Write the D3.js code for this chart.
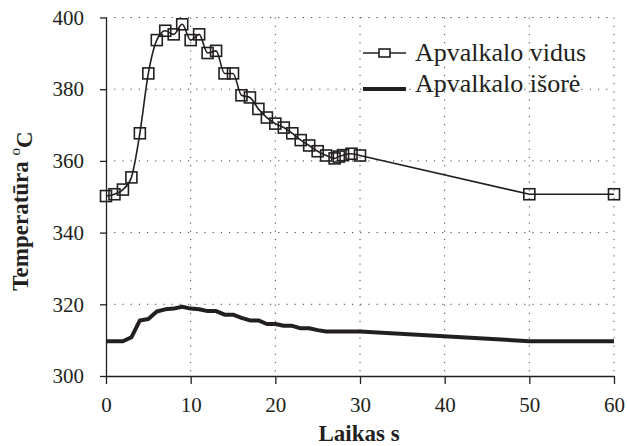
<!DOCTYPE html>
<html>
<head>
<meta charset="utf-8">
<script src="https://cdn.jsdelivr.net/npm/d3@7"></script>
<style>
  body { margin: 0; background: white; }
  svg text { font-family: "Times New Roman", "Liberation Serif", Tinos, "DejaVu Serif", serif; fill: #231f20; }
</style>
</head>
<body>
<div id="graf"></div>
<script>
// Apvalkalo vidus (laikas s, temperatūra °C)
const laikasVidus = [0, 1, 2, 3, 4, 5, 6, 7, 8, 9, 10, 11, 12, 13, 14, 15, 16, 17, 18, 19, 20,
  21, 22, 23, 24, 25, 26, 27, 27.5, 28, 29, 30, 50, 60]
const tempVidus = [350.2, 350.7, 352.0, 355.4, 367.7, 384.4, 393.7, 396.3, 395.3, 398.1, 393.7,
  395.3, 390.1, 390.7, 384.4, 384.4, 378.3, 377.7, 374.5, 372.1, 370.4, 369.3, 367.7, 365.8,
  364.3, 362.7, 361.5, 360.7, 361.2, 361.6, 362.0, 361.5, 350.7, 350.7]

// Apvalkalo išorė
const laikasIsore = [0, 2, 3, 4, 5, 6, 7, 8, 9, 10, 11, 12, 13, 14, 15, 16, 17, 18, 19, 20,
  21, 22, 23, 24, 25, 26, 30, 50, 60]
const tempIsore = [309.7, 309.7, 310.8, 315.5, 315.9, 318.0, 318.6, 318.8, 319.3, 318.8, 318.6,
  318.1, 318.1, 317.1, 317.1, 316.2, 315.5, 315.5, 314.5, 314.5, 314.0, 314.0, 313.3, 313.3,
  312.8, 312.4, 312.4, 309.7, 309.7]

const xTicks = [0, 10, 20, 30, 40, 50, 60]
const yTicks = [300, 320, 340, 360, 380, 400]
const serieNames = ["Apvalkalo vidus", "Apvalkalo išorė"]

const fuente = '"Times New Roman", "Liberation Serif", Tinos, "DejaVu Serif", serif'

const anchoTotal = 627
const altoTotal = 446
const margins = { top: 17.5, right: 13, bottom: 70, left: 106 }
const ancho = anchoTotal - margins.left - margins.right
const alto = altoTotal - margins.top - margins.bottom

const svg = d3.select("#graf")
  .append("svg")
  .attr("width", anchoTotal)
  .attr("height", altoTotal)

const g = svg.append("g")
  .attr("transform", `translate(${margins.left}, ${margins.top})`)

// Scales
const x = d3.scaleLinear().domain([0, 60]).range([0, ancho])
const y = d3.scaleLinear().domain([300, 400]).range([alto, 0])

// Grid
g.selectAll(".vgrid")
  .data(xTicks.slice(1))
  .enter()
  .append("line")
  .attr("class", "vgrid")
  .attr("x1", (d) => x(d))
  .attr("x2", (d) => x(d))
  .attr("y1", 0)
  .attr("y2", alto)
  .attr("stroke", "#444")
  .attr("stroke-width", 1)
  .attr("stroke-dasharray", "1.2,7")

g.selectAll(".hgrid")
  .data(yTicks.slice(1))
  .enter()
  .append("line")
  .attr("class", "hgrid")
  .attr("x1", 0)
  .attr("x2", ancho)
  .attr("y1", (d) => y(d))
  .attr("y2", (d) => y(d))
  .attr("stroke", "#444")
  .attr("stroke-width", 1)
  .attr("stroke-dasharray", "1.2,7")

// Axes
const xAxisGroup = g.append("g")
  .attr("transform", `translate(0, ${alto})`)
  .call(d3.axisBottom(x).tickValues(xTicks).tickSize(8).tickPadding(13).tickSizeOuter(0))

const yAxisGroup = g.append("g")
  .call(d3.axisLeft(y).tickValues(yTicks).tickSize(6).tickPadding(16).tickSizeOuter(0))

xAxisGroup.attr("font-family", null).attr("font-size", null)
yAxisGroup.attr("font-family", null).attr("font-size", null)

g.selectAll(".domain, .tick line")
  .attr("stroke", "#231f20")
  .attr("stroke-width", 1.3)

g.selectAll(".tick text")
  .style("font-family", fuente)
  .style("font-size", "21px")
  .attr("fill", "#231f20")

// Lines
const dataVidus = laikasVidus.map((d, i) => ({ t: d, v: tempVidus[i] }))
const dataIsore = laikasIsore.map((d, i) => ({ t: d, v: tempIsore[i] }))

g.append("path")
  .datum(dataIsore)
  .attr("fill", "none")
  .attr("stroke", "#231f20")
  .attr("stroke-width", 4)
  .attr("stroke-linejoin", "round")
  .attr("d", d3.line()
    .x((d) => x(d.t))
    .y((d) => y(d.v)))

// suave hasta 30 s, recto despues
const corte = laikasVidus.indexOf(30)
g.append("path")
  .datum(dataVidus.slice(0, corte + 1))
  .attr("fill", "none")
  .attr("stroke", "#231f20")
  .attr("stroke-width", 1.6)
  .attr("d", d3.line()
    .curve(d3.curveMonotoneX)
    .x((d) => x(d.t))
    .y((d) => y(d.v)))

g.append("path")
  .datum(dataVidus.slice(corte))
  .attr("fill", "none")
  .attr("stroke", "#231f20")
  .attr("stroke-width", 1.6)
  .attr("d", d3.line()
    .x((d) => x(d.t))
    .y((d) => y(d.v)))

// Markers
const size = 11
g.selectAll(".marker")
  .data(dataVidus)
  .enter()
  .append("rect")
  .attr("class", "marker")
  .attr("x", (d) => x(d.t) - size / 2)
  .attr("y", (d) => y(d.v) - size / 2)
  .attr("width", size)
  .attr("height", size)
  .attr("fill", "none")
  .attr("stroke", "#231f20")
  .attr("stroke-width", 1.6)

// Legend
const legend = svg.append("g")
legend.append("line")
  .attr("x1", 363).attr("x2", 406)
  .attr("y1", 53).attr("y2", 53)
  .attr("stroke", "#231f20")
  .attr("stroke-width", 1.6)
legend.append("rect")
  .attr("x", 379).attr("y", 49)
  .attr("width", 11).attr("height", 8)
  .attr("fill", "white")
  .attr("stroke", "#231f20")
  .attr("stroke-width", 1.6)
legend.append("line")
  .attr("x1", 363).attr("x2", 406)
  .attr("y1", 89).attr("y2", 89)
  .attr("stroke", "#231f20")
  .attr("stroke-width", 4)

legend.selectAll(".leyenda")
  .data(serieNames)
  .enter()
  .append("text")
  .attr("class", "leyenda")
  .attr("x", 415)
  .attr("y", (d, i) => 61 + i * 31)
  .style("font-family", fuente)
  .style("font-size", "26px")
  .text((d) => d)

// Axis titles
svg.append("text")
  .attr("x", margins.left + ancho / 2 - 1)
  .attr("y", 441)
  .attr("text-anchor", "middle")
  .style("font-family", fuente)
  .style("font-size", "23px")
  .style("font-weight", "bold")
  .text("Laikas s")

const yTitle = svg.append("text")
  .attr("transform", "translate(27.5, 211) rotate(-90)")
  .attr("text-anchor", "middle")
  .style("font-family", fuente)
  .style("font-size", "23px")
  .style("font-weight", "bold")
yTitle.append("tspan").text("Temperatūra   ")
yTitle.append("tspan").attr("dy", "-0.5em").style("font-size", "15px").style("font-weight", "normal").text("o")
yTitle.append("tspan").attr("dy", "0.5em").text("C")
</script>
</body>
</html>
